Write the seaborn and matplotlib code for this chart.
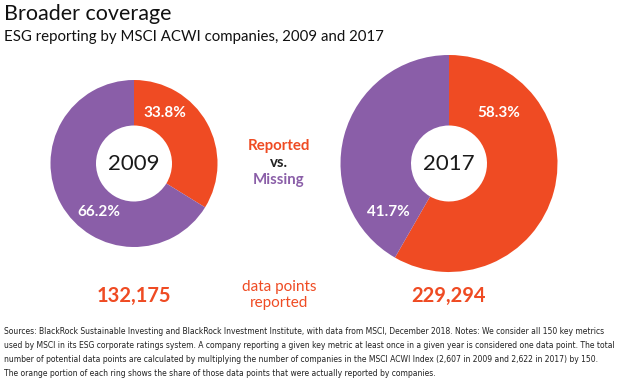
import matplotlib
matplotlib.use("Agg")
import matplotlib.pyplot as plt
from matplotlib import font_manager
from matplotlib.font_manager import FontProperties
import seaborn as sns

# Data
years = ["2009", "2017"]
reported_pct = [33.8, 58.3]
missing_pct = [66.2, 41.7]
points_reported = ["132,175", "229,294"]
footnote = [
    "Sources: BlackRock Sustainable Investing and BlackRock Investment Institute, with data from MSCI, December 2018. Notes: We consider all 150 key metrics",
    "used by MSCI in its ESG corporate ratings system. A company reporting a given key metric at least once in a given year is considered one data point. The total",
    "number of potential data points are calculated by multiplying the number of companies in the MSCI ACWI Index (2,607 in 2009 and 2,622 in 2017) by 150.",
    "The orange portion of each ring shows the share of those data points that were actually reported by companies.",
]

ORANGE = "#EF4B23"
PURPLE = "#8A5EA8"

sns.set_theme(style="white")
plt.rcParams["font.family"] = ["Lato", "DejaVu Sans"]
palette = sns.color_palette([ORANGE, PURPLE])

W, H = 620, 380
fig = plt.figure(figsize=(W / 100, H / 100), dpi=100)
fig.patch.set_facecolor("white")

# donut geometry in pixels: center x, center y, outer radius
rings = [(134, 163.5, 83.5), (449, 163.5, 108.5)]
inner_r = 38
label_pos = [
    [(0.37, 0.60), (-0.42, -0.58)],
    [(0.46, 0.465), (-0.56, -0.45)],
]

for i, (cx, cy, r) in enumerate(rings):
    ax = fig.add_axes([(cx - r) / W, (H - cy - r) / H, 2 * r / W, 2 * r / H])
    ax.pie([reported_pct[i], missing_pct[i]], colors=palette, startangle=90,
           counterclock=False, radius=1,
           wedgeprops=dict(width=1 - inner_r / r, edgecolor="none"))
    ax.set_xlim(-1, 1)
    ax.set_ylim(-1, 1)
    ax.set_aspect("equal")
    ax.axis("off")
    vals = [reported_pct[i], missing_pct[i]]
    for (px, py), v in zip(label_pos[i], vals):
        ax.text(px, py, f"{v:.1f}%", color="white", fontsize=11,
                fontweight="bold", ha="center", va="center")
    ax.text(0, 0, years[i], fontsize=16, color="#1a1a1a", ha="center",
            va="center")
    fig.text(cx / W, 1 - 296 / H, points_reported[i], color=ORANGE,
             fontsize=14.5, fontweight="bold", ha="center", va="center")

# middle legend text
mid_x = 279 / W
fig.text(mid_x, 1 - 146 / H, "Reported", color=ORANGE, fontsize=10.8,
         fontweight="bold", ha="center", va="center")
fig.text(mid_x, 1 - 163 / H, "vs.", color="#222222", fontsize=10.8,
         fontweight="bold", ha="center", va="center")
fig.text(mid_x, 1 - 180 / H, "Missing", color=PURPLE, fontsize=10.8,
         fontweight="bold", ha="center", va="center")
fig.text(mid_x, 1 - 287 / H, "data points", color=ORANGE, fontsize=11,
         ha="center", va="center")
fig.text(mid_x, 1 - 303 / H, "reported", color=ORANGE, fontsize=11,
         ha="center", va="center")

# titles
fig.text(4 / W, 1 - 14 / H, "Broader coverage", fontsize=15.5, color="#111111",
         ha="left", va="center")
fig.text(4 / W, 1 - 37 / H, "ESG reporting by MSCI ACWI companies, 2009 and 2017",
         fontsize=10.8, color="#111111", ha="left", va="center")

# footnote: pick a condensed face if one is installed, then fit to width
fn_prop = None
for f in font_manager.fontManager.ttflist:
    low = f.fname.lower()
    if ("narrow" in low or "condensed" in low) and "bold" not in low \
            and "oblique" not in low and "italic" not in low and "mono" not in low:
        fn_prop = FontProperties(fname=f.fname)
        break
if fn_prop is None:
    fn_prop = FontProperties(family="DejaVu Sans")

renderer = fig.canvas.get_renderer()
probe = fig.text(0, 0, footnote[1], fontproperties=fn_prop, fontsize=8)
bb = probe.get_window_extent(renderer)
probe.remove()
fn_size = min(8 * 606 / bb.width, 8.0)

for k, line in enumerate(footnote):
    fig.text(4 / W, 1 - (331 + 14 * k) / H, line, fontproperties=fn_prop,
             fontsize=fn_size, color="#222222", ha="left", va="center")

fig.savefig("out.png", dpi=100, facecolor="white")
